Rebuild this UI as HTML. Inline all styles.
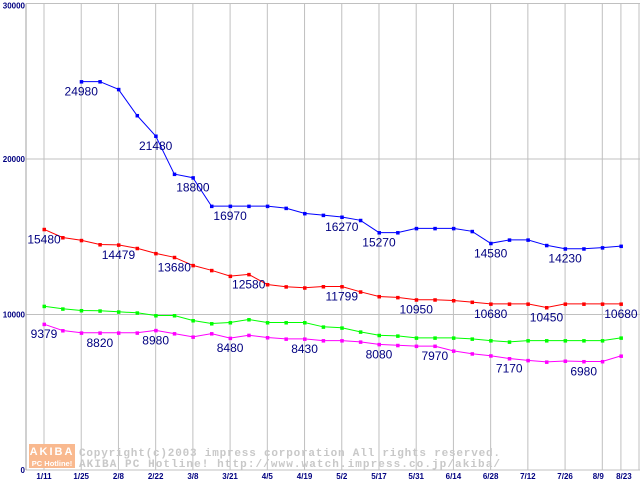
<!DOCTYPE html>
<html><head><meta charset="utf-8"><style>
html,body{margin:0;padding:0;background:#fff;width:640px;height:480px;overflow:hidden}
svg{display:block}
</style></head><body>
<svg id="chart" width="640" height="480" xmlns="http://www.w3.org/2000/svg" font-family="Liberation Sans, sans-serif">
<g id="grid"></g>
<g id="wm">
<rect x="29" y="444" width="46" height="24" fill="#f9b98f"/>
<text x="52" y="455" text-anchor="middle" font-size="11" font-weight="bold" fill="#fff" letter-spacing="2">AKIBA</text>
<text x="52" y="466" text-anchor="middle" font-size="7.5" font-weight="bold" fill="#fff">PC Hotline!</text>
<text x="79" y="456" font-family="Liberation Mono, monospace" font-size="11" font-weight="bold" fill="#c8c8c8" textLength="421" lengthAdjust="spacing">Copyright(c)2003 impress corporation All rights reserved.</text>
<text x="79" y="467" font-family="Liberation Mono, monospace" font-size="11" font-weight="bold" fill="#c8c8c8" textLength="421" lengthAdjust="spacing">AKIBA PC Hotline!  http://www.watch.impress.co.jp/akiba/</text>
</g>
<g id="series"></g>
<g id="labels"></g>
<g id="axes"></g>
</svg>
<script>
const xTickLabels = ["1/11","1/25","2/8","2/22","3/8","3/21","4/5","4/19","5/2","5/17","5/31","6/14","6/28","7/12","7/26","8/9","8/23"];
const yTickValues = [0,10000,20000,30000];
const blueValues = [null,null,24980,24980,24480,22800,21480,19030,18800,16970,16970,16970,16970,16840,16500,16390,16270,16060,15270,15270,15540,15540,15540,15350,14580,14800,14800,14450,14230,14230,14300,14400];
const redValues = [15480,14950,14770,14500,14479,14260,13930,13680,13160,12840,12470,12580,11930,11790,11720,11800,11799,11460,11160,11100,10950,10950,10900,10800,10680,10680,10680,10450,10680,10680,10680,10680];
const greenValues = [10535,10365,10258,10237,10172,10108,9935,9935,9613,9419,9484,9677,9484,9484,9484,9206,9142,8884,8665,8626,8497,8497,8497,8432,8323,8239,8323,8323,8323,8323,8323,8497];
const magentaValues = [9379,8968,8820,8820,8820,8820,8980,8774,8560,8774,8480,8670,8520,8430,8430,8323,8323,8239,8080,8020,7970,7970,7660,7480,7350,7170,7050,6950,7010,6980,6980,7335];
const blueLabelIdx = [2,6,8,10,16,18,24,28];
const redLabelIdx = [0,4,7,11,16,20,24,27,31];
const magentaLabelIdx = [0,3,6,10,14,18,21,25,29];

const NS="http://www.w3.org/2000/svg";
const X0=44, DX=18.61, Y0=470, YS=0.01555;
const xOf=i=>X0+i*DX;
const yOf=v=>Y0-v*YS;
function mk(tag,attrs,parent,txt){const e=document.createElementNS(NS,tag);for(const k in attrs)e.setAttribute(k,attrs[k]);if(txt!==undefined)e.textContent=txt;parent.appendChild(e);return e;}
const grid=document.getElementById('grid'), axes=document.getElementById('axes'), ser=document.getElementById('series'), lab=document.getElementById('labels');
yTickValues.forEach(v=>{
  const l=mk('line',{x1:26,x2:640,y1:yOf(v),y2:yOf(v),stroke:'#c0c0c0','stroke-width':1},grid);
  
  
  const t=mk('text',{x:25,y:yOf(v)+(v===30000?5:3),'text-anchor':'end','font-size':8,'font-weight':'bold',fill:'#000080'},axes,String(v));
  
  
});
xTickLabels.forEach((s,k)=>{
  const i = k<15 ? k*2 : (k===15?30:31);
  const x=xOf(i);
  const l=mk('line',{x1:x,x2:x,y1:yOf(30000),y2:Y0,stroke:'#c0c0c0','stroke-width':1},grid);
  
  
  const t=mk('text',{x:x+(k===15?-4:(k===16?3:0)),y:479,'text-anchor':'middle','font-size':8,'font-weight':'bold',fill:'#000080'},axes,s);
  
  
});
const la=mk('line',{x1:26,x2:26,y1:yOf(30000),y2:Y0,stroke:'#a0a0a0'},axes);


const ra=mk('line',{x1:639,x2:639,y1:yOf(30000),y2:Y0,stroke:'#c0c0c0'},axes);



function drawSeries(vals,color,name,labelIdx){
  const pts=[];vals.forEach((v,i)=>{if(v!==null)pts.push([xOf(i),yOf(v)]);});
  const pl=mk('polyline',{points:pts.map(p=>p[0].toFixed(1)+','+p[1].toFixed(1)).join(' '),fill:'none',stroke:color,'stroke-width':1},ser);
  
  
  pts.forEach(p=>{
    const r=mk('rect',{x:p[0]-1.5,y:p[1]-1.5,width:3.5,height:3.5,fill:color},ser);
    
    
  });
  (labelIdx||[]).forEach(i=>{
    const t=mk('text',{x:xOf(i),y:yOf(vals[i])+14,'text-anchor':'middle','font-size':12,fill:'#000080'},lab,String(vals[i]));
    
    
  });
}
drawSeries(greenValues,'#00ff00','green-series',null);
drawSeries(magentaValues,'#ff00ff','magenta-series',magentaLabelIdx);
drawSeries(redValues,'#ff0000','red-series',redLabelIdx);
drawSeries(blueValues,'#0000ff','blue-series',blueLabelIdx);
</script>
</body></html>
